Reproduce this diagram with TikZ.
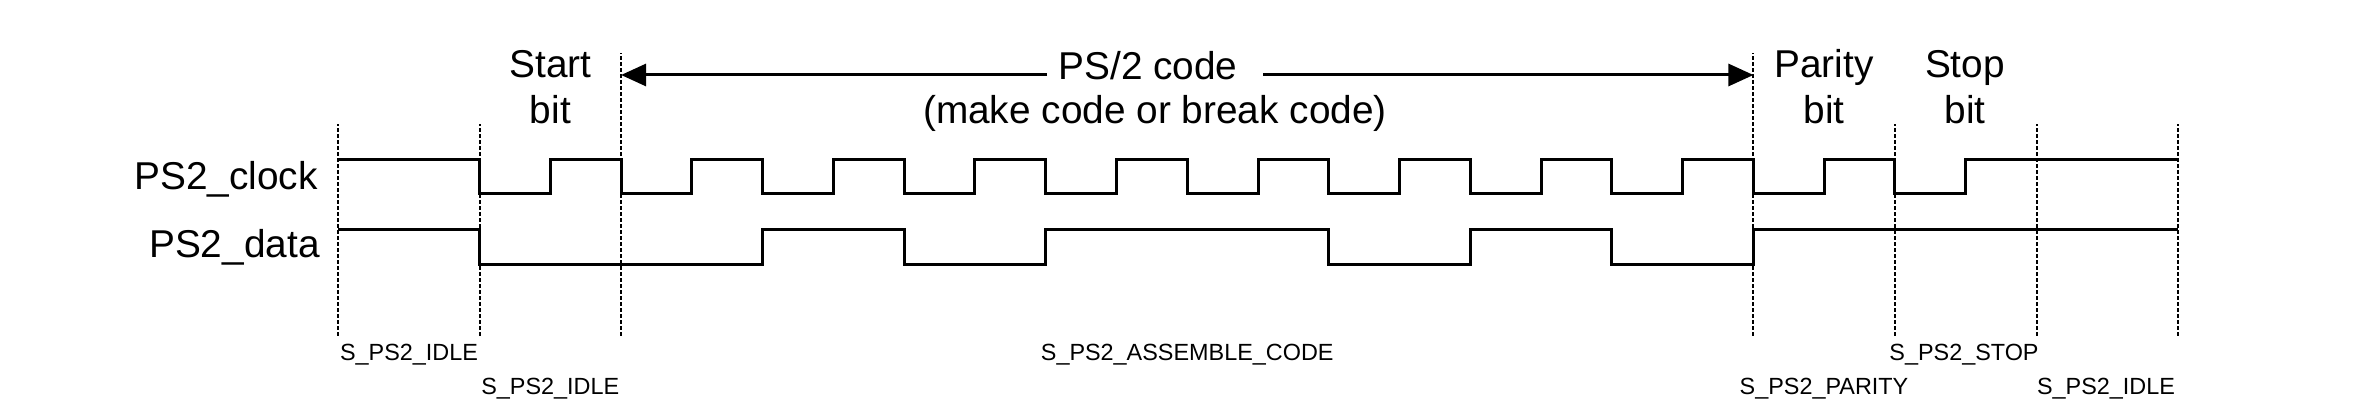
\documentclass[tikz,border=0pt]{standalone}
\usepackage{fontspec}
\setmainfont{Liberation Sans}
\usetikzlibrary{arrows.meta}
\begin{document}
\begin{tikzpicture}[x=0.5pt,y=-0.5pt,
  wave/.style={line width=1.5pt,line join=miter},
  guide/.style={line width=1pt,dash pattern=on 2pt off 1pt},
  span/.style={line width=1.5pt,-{Triangle[length=12.5pt,width=11pt]}},
  big/.style={font=\fontsize{19.4}{22}\selectfont,inner sep=0pt,anchor=base},
  small/.style={font=\fontsize{11.7}{14}\selectfont,inner sep=0pt,anchor=base},
  lab/.style={font=\fontsize{19.4}{22}\selectfont,inner sep=0pt,anchor=base east}]
\useasboundingbox (0,0) rectangle (2362,416);
\def\bw{141.54}
% bit boundaries
\foreach \k in {0,...,13}{
  \coordinate (b\k) at ({338+\k*\bw},336);
}
\foreach \k in {0,1,11,12,13}{
  \draw[guide] (b\k) -- ++(0,-212);
}
\foreach \k in {2,10}{
  \draw[guide] (b\k) -- ++(0,-283);
}
% clock
\draw[wave] (338,160)
  \foreach \k in {1,...,11}{
    -- ({338+\k*\bw},160) -- ({338+\k*\bw},194)
    -- ({338+(\k+0.5)*\bw},194) -- ({338+(\k+0.5)*\bw},160)
  } -- (2178.02,160);
% data
\draw[wave] (338,230) -- (479.54,230) -- (479.54,265) -- (762.62,265)
  -- (762.62,230) -- (904.16,230) -- (904.16,265) -- (1045.7,265)
  -- (1045.7,230) -- (1328.78,230) -- (1328.78,265) -- (1470.32,265)
  -- (1470.32,230) -- (1611.86,230) -- (1611.86,265) -- (1753.4,265)
  -- (1753.4,230) -- (2178.02,230);
% signal labels
\node[lab] (clk) at (318,190) {PS2\_clock};
\node[lab] (dat) at (320,258) {PS2\_data};
% header labels
\node[big] (start1) at (550.3,78) {Start};
\node[big] (start2) at (550.3,124) {bit};
\node[big] (par1) at (1824,78) {Parity};
\node[big] (par2) at (1824,124) {bit};
\node[big] (stop1) at (1965,78) {Stop};
\node[big] (stop2) at (1965,124) {bit};
\node[big] (code1) at (1148,80) {PS/2 code};
\node[big] (code2) at (1155,124) {(make code or break code)};
% arrow
\coordinate (arrL) at (1047,75);
\coordinate (arrR) at (1263,75);
\coordinate (tipL) at (621.08,75);
\coordinate (tipR) at (1753.4,75);
\draw[span] (arrL) -- (tipL);
\draw[span] (arrR) -- (tipR);
% state labels
\node[small] (s1) at (409,361) {S\_PS2\_IDLE};
\node[small] (s2) at (550.3,395) {S\_PS2\_IDLE};
\node[small] (s3) at (1187.2,361) {S\_PS2\_ASSEMBLE\_CODE};
\node[small] (s4) at (1824,395) {S\_PS2\_PARITY};
\node[small] (s5) at (1964,361) {S\_PS2\_STOP};
\node[small] (s6) at (2106,395) {S\_PS2\_IDLE};
\end{tikzpicture}
\end{document}
